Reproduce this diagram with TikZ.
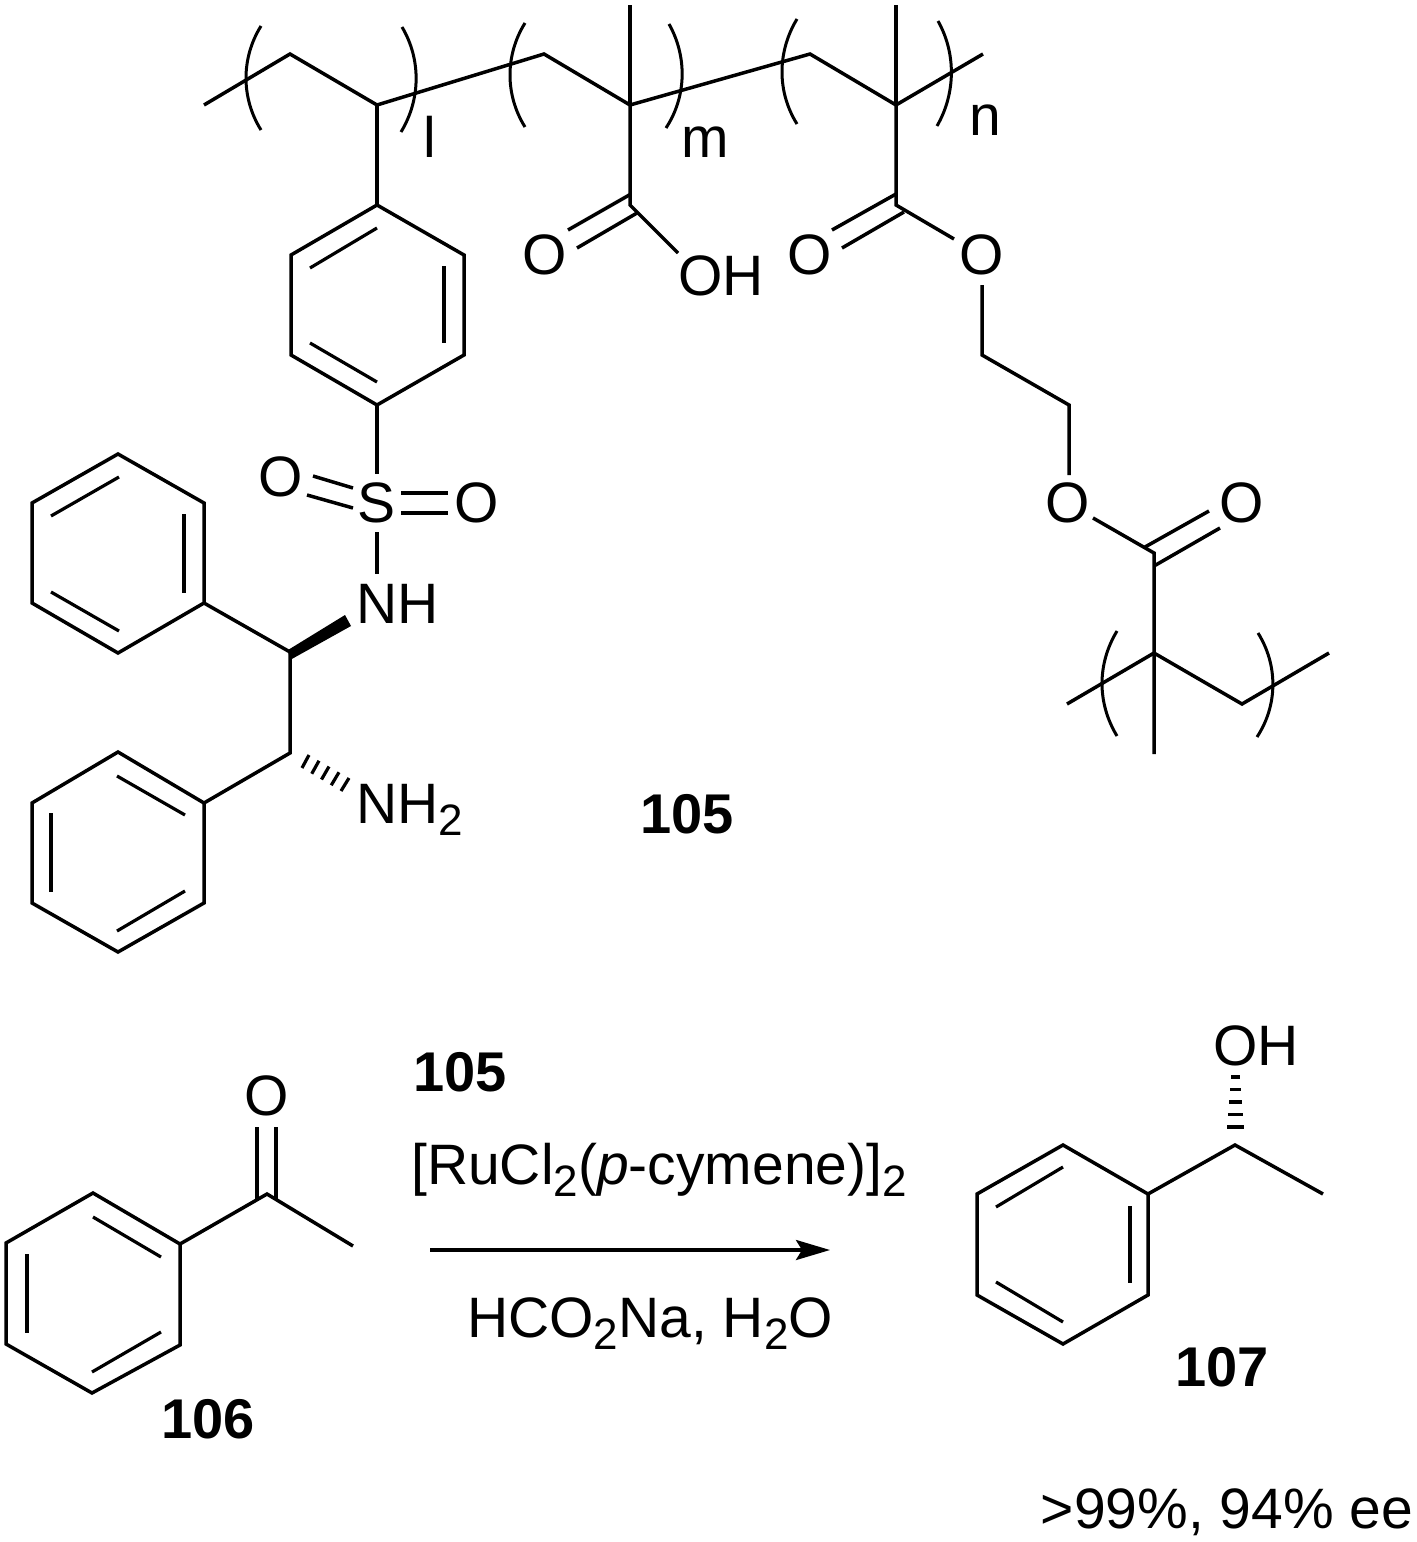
\documentclass[tikz,border=0pt]{standalone}
\usepackage{fontspec}
\setmainfont{Liberation Sans}
\usetikzlibrary{arrows.meta}
\tikzstyle{bond}     = [line width=1.75pt, line join=miter]
\tikzstyle{inner_db} = [line width=1.6pt]
\tikzstyle{bracket}  = [line width=1.5pt]
\tikzstyle{atom}     = [inner sep=0pt, anchor=base, font=\fontsize{28.5}{30}\selectfont]
\tikzstyle{atom_w}   = [atom, anchor=base west]
\tikzstyle{compound} = [atom, font=\fontsize{28}{30}\selectfont\bfseries]
\newcommand{\subtwo}{\raisebox{-6pt}{\fontsize{22}{22}\selectfont 2}}
\begin{document}
\begin{tikzpicture}[%
    x=0.5pt,
    y=-0.5pt,
    >={Stealth[length=17pt,width=10pt,inset=3pt]}
  ]
      \useasboundingbox (0,0) rectangle (1417,1542);

      %Backbone
      \coordinate (b0) at (204,105);
      \coordinate (b1) at (290,54);
      \coordinate (b2) at (377,105);
      \coordinate (b3) at (544,54);
      \coordinate (b4) at (630,105);
      \coordinate (b5) at (810,54);
      \coordinate (b6) at (896,105);
      \coordinate (b7) at (983,54);
      \coordinate (me1) at (630,5);
      \coordinate (me2) at (896,5);
      \draw[bond] (b0) -- (b1) -- (b2) -- (b3) -- (b4) -- (b5) -- (b6) -- (b7);
      \draw[bond] (me1) -- (b4);
      \draw[bond] (me2) -- (b6);

      %Brackets
      \draw[bracket] (261,26) .. controls (241,58) and (241,98) .. (261,130);
      \draw[bracket] (402,27) .. controls (421,59) and (421,99) .. (401,132);
      \draw[bracket] (525,23) .. controls (505,55) and (505,95) .. (525,127);
      \draw[bracket] (669,24) .. controls (687,56) and (687,96) .. (666,128);
      \draw[bracket] (797,19) .. controls (777,52) and (777,92) .. (797,124);
      \draw[bracket] (938,21) .. controls (956,53) and (956,93) .. (937,126);
      \node[atom] (l_idx) at (430,157) {l};
      \node[atom] (m_idx) at (705,157) {m};
      \node[atom] (n_idx) at (985,135) {n};

      %Sulfonyl ring
      \coordinate (r1a) at (377,205);
      \coordinate (r1b) at (464,255);
      \coordinate (r1c) at (464,355);
      \coordinate (r1d) at (377,405);
      \coordinate (r1e) at (291,355);
      \coordinate (r1f) at (291,255);
      \draw[bond] (b2) -- (r1a);
      \draw[bond] (r1a) -- (r1b) -- (r1c) -- (r1d) -- (r1e) -- (r1f) -- cycle;
      \draw[inner_db] (310,268) -- (377,228);
      \draw[inner_db] (444,266) -- (444,343);
      \draw[inner_db] (310,343) -- (377,382);

      %Acid
      \coordinate (c1) at (630,205);
      \coordinate (oh1) at (678,253);
      \draw[bond] (b4) -- (c1) -- (oh1);
      \draw[bond] (631,194) -- (568,230);
      \draw[bond] (637,213) -- (577,248);
      \node[atom] (o_acid) at (545,274) {O};
      \node[atom] (oh_acid) at (721,295) {OH};

      %Ester and linker
      \coordinate (c2) at (896,205);
      \coordinate (o2a) at (954,239);
      \coordinate (o2b) at (982,285);
      \coordinate (e1) at (982,355);
      \coordinate (e2) at (1069,405);
      \coordinate (o3a) at (1069,475);
      \draw[bond] (b6) -- (c2) -- (o2a);
      \draw[bond] (896,194) -- (832,230);
      \draw[bond] (904,212) -- (842,248);
      \draw[bond] (o2b) -- (e1) -- (e2) -- (o3a);
      \node[atom] (o_ester) at (810,274) {O};
      \node[atom] (o_link1) at (982,274) {O};
      \node[atom] (o_link2) at (1068,522) {O};
      \node[atom] (o_ester2) at (1242,522) {O};

      %Crosslink unit
      \coordinate (o3b) at (1093,518);
      \coordinate (c3) at (1154,553);
      \coordinate (c4) at (1154,653);
      \coordinate (me3) at (1154,754);
      \coordinate (x0) at (1067,704);
      \coordinate (x1) at (1242,704);
      \coordinate (x2) at (1329,653);
      \draw[bond] (o3b) -- (c3) -- (c4) -- (me3);
      \draw[bond] (x0) -- (c4) -- (x1) -- (x2);
      \draw[bond] (1145,547) -- (1209,511);
      \draw[bond] (1154,566) -- (1220,528);
      \draw[bracket] (1117,631) .. controls (1097,664) and (1097,703) .. (1117,736);
      \draw[bracket] (1258,633) .. controls (1278,665) and (1278,705) .. (1257,737);

      %Sulfonamide
      \coordinate (s_up) at (377,474);
      \coordinate (s_dn) at (377,532);
      \coordinate (nh_up) at (377,574);
      \draw[bond] (r1d) -- (s_up);
      \draw[bond] (s_dn) -- (nh_up);
      \draw[bond] (313,476) -- (353,488);
      \draw[bond] (307,495) -- (353,508);
      \draw[bond] (401,493) -- (448,493);
      \draw[bond] (401,513) -- (448,513);
      \node[atom] (s_atom) at (377,522) {S};
      \node[atom] (o_sl) at (281,496) {O};
      \node[atom] (o_sr) at (477,522) {O};
      \node[atom] (nh_atom) at (398,623) {NH};
      \node[atom_w] (nh2_atom) at (356,823) {NH\subtwo};

      %Diamine and phenyls
      \coordinate (d1) at (290,652);
      \coordinate (d2) at (290,753);
      \coordinate (p1a) at (118,454);
      \coordinate (p1b) at (204,503);
      \coordinate (p1c) at (204,603);
      \coordinate (p1d) at (118,653);
      \coordinate (p1e) at (32,603);
      \coordinate (p1f) at (32,503);
      \coordinate (p2a) at (118,752);
      \coordinate (p2b) at (204,803);
      \coordinate (p2c) at (204,903);
      \coordinate (p2d) at (118,952);
      \coordinate (p2e) at (32,903);
      \coordinate (p2f) at (32,803);
      \draw[bond] (p1a) -- (p1b) -- (p1c) -- (p1d) -- (p1e) -- (p1f) -- cycle;
      \draw[bond] (p2a) -- (p2b) -- (p2c) -- (p2d) -- (p2e) -- (p2f) -- cycle;
      \draw[bond] (p1c) -- (d1) -- (d2) -- (p2b);
      \draw[inner_db] (51,516) -- (119,477);
      \draw[inner_db] (184,514) -- (184,593);
      \draw[inner_db] (51,592) -- (119,631);
      \draw[inner_db] (117,776) -- (185,815);
      \draw[inner_db] (51,813) -- (51,892);
      \draw[inner_db] (117,931) -- (185,891);
      %Wedge and hash
      \fill (288,650) -- (345,615) -- (351,626) -- (290,660) -- cycle;
      \foreach \i in {0,1,2,3,4}
        \draw[line width=1.6pt] (309+10*\i,755+5.75*\i) -- (302+9.75*\i,768+5.75*\i);

      %Labels of the polymer
      \node[compound] (cmp105a) at (687,833) {105};

      %Acetophenone
      \coordinate (a1) at (93,1193);
      \coordinate (a2) at (180,1244);
      \coordinate (a3) at (180,1345);
      \coordinate (a4) at (92,1393);
      \coordinate (a5) at (6,1344);
      \coordinate (a6) at (6,1243);
      \coordinate (ac) at (267,1194);
      \coordinate (am) at (353,1246);
      \draw[bond] (a1) -- (a2) -- (a3) -- (a4) -- (a5) -- (a6) -- cycle;
      \draw[bond] (a2) -- (ac) -- (am);
      \draw[inner_db] (93,1217) -- (161,1257);
      \draw[inner_db] (27,1254) -- (27,1333);
      \draw[inner_db] (92,1372) -- (161,1332);
      \draw[bond] (257,1127) -- (257,1199);
      \draw[bond] (276,1127) -- (276,1199);
      \node[atom] (o_ketone) at (267,1115) {O};
      \node[compound] (cmp106) at (208,1438) {106};

      %Arrow and conditions
      \coordinate (arr_a) at (430,1250);
      \coordinate (arr_b) at (830,1250);
      \draw[bond,->] (arr_a) -- (arr_b);
      \node[compound] (cmp105b) at (460,1091) {105};
      \node[atom] (cat) at (659,1184) {[RuCl\subtwo(\textit{p}-cymene)]\subtwo};
      \node[atom] (cond) at (650,1337) {HCO\subtwo Na, H\subtwo O};

      %Phenylethanol
      \coordinate (f1) at (1063,1145);
      \coordinate (f2) at (1148,1194);
      \coordinate (f3) at (1148,1295);
      \coordinate (f4) at (1063,1344);
      \coordinate (f5) at (977,1295);
      \coordinate (f6) at (977,1194);
      \coordinate (fc) at (1235,1145);
      \coordinate (fm) at (1323,1194);
      \draw[bond] (f1) -- (f2) -- (f3) -- (f4) -- (f5) -- (f6) -- cycle;
      \draw[bond] (f2) -- (fc) -- (fm);
      \draw[inner_db] (996,1207) -- (1063,1167);
      \draw[inner_db] (1130,1206) -- (1130,1283);
      \draw[inner_db] (996,1282) -- (1063,1322);
      \foreach \i in {0,1,2,3,4}
        \draw[line width=1.6pt] (1227+\i,1127-12.5*\i) -- (1244-\i,1127-12.5*\i);
      \node[atom] (oh_alc) at (1256,1065) {OH};
      \node[compound] (cmp107) at (1222,1386) {107};
      \node[atom] (yield) at (1227,1528) {>99\%, 94\% ee};
    \end{tikzpicture}
\end{document}
